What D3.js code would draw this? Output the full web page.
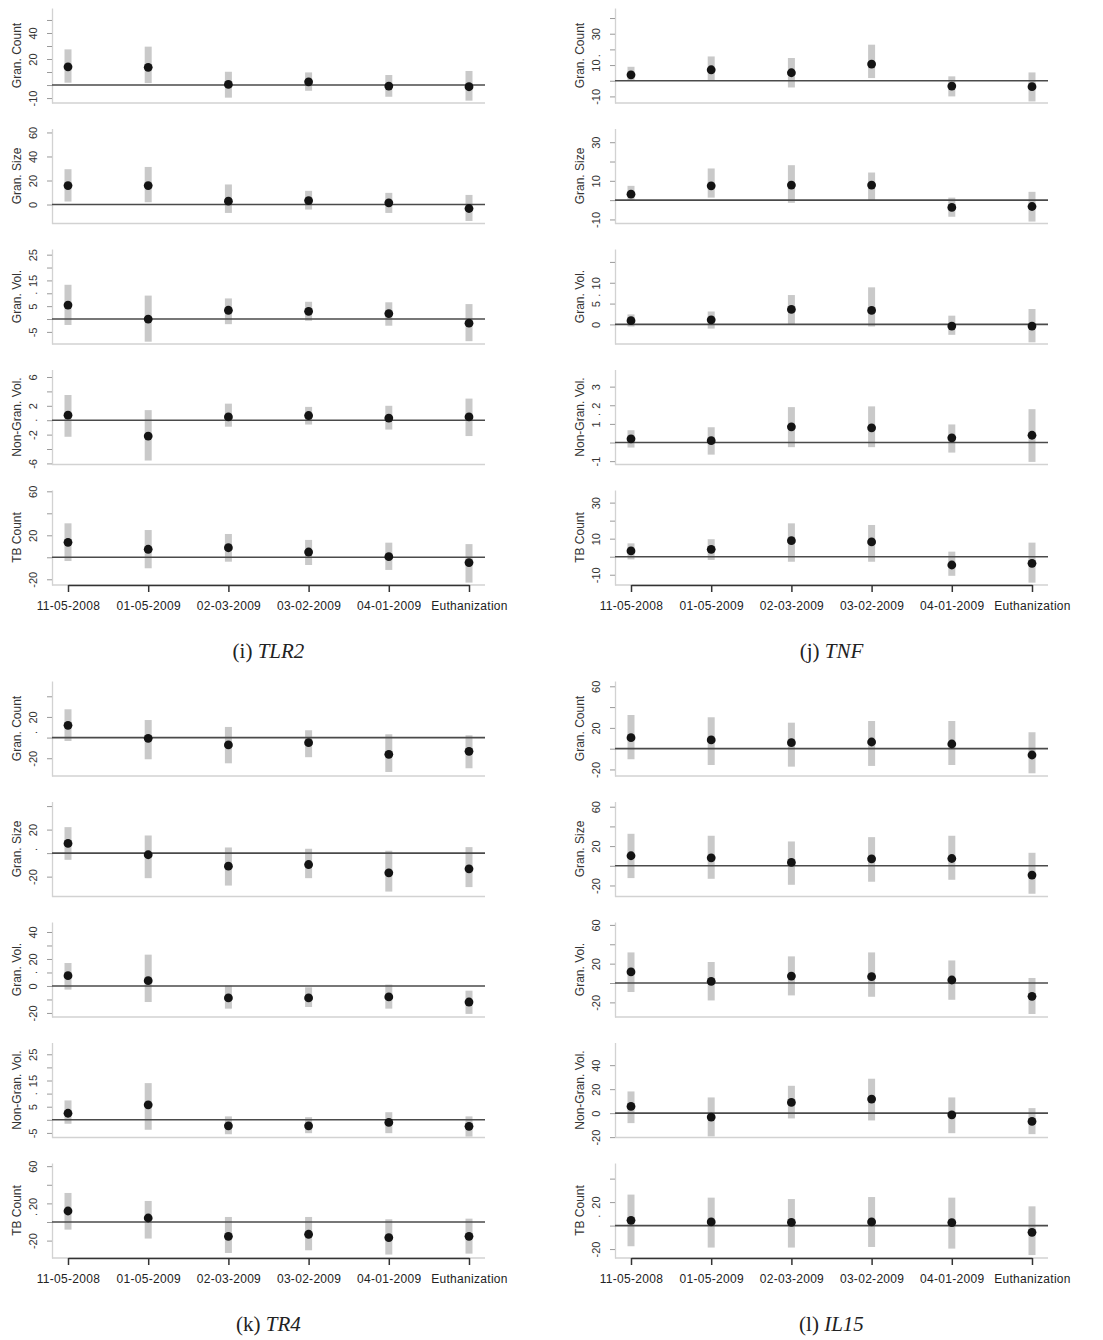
<!DOCTYPE html>
<html>
<head>
<meta charset="utf-8">
<script src="https://cdn.jsdelivr.net/npm/d3@7"></script>
<style>
  body { margin: 0; background: #fff; }
  svg text { font-family: "Liberation Sans", Arial, Helvetica, sans-serif; }
</style>
</head>
<body>
<svg id="fig" width="1103" height="1340"></svg>
<script>
// Visit dates on the shared x axis and the five outcome measures per gene
const visitDates = ["11-05-2008", "01-05-2009", "02-03-2009", "03-02-2009", "04-01-2009", "Euthanization"];
const measureNames = ["Gran. Count", "Gran. Size", "Gran. Vol.", "Non-Gran. Vol.", "TB Count"];

// ---- TLR2 ----
const tlr2Est = [
  [14, 13.6, 0.5, 2.5, -0.8, -1.3],
  [15.8, 15.8, 2.8, 3.3, 1.4, -3.3],
  [5.4, 0, 3.4, 3, 2.1, -1.6],
  [0.7, -2.2, 0.46, 0.65, 0.3, 0.46],
  [13.6, 7.3, 8.7, 4.8, 0.6, -4.8]
];
const tlr2Low = [
  [1.8, 1.5, -9.7, -4.4, -9, -12],
  [2.5, 1.9, -7, -4.2, -7, -13.7],
  [-2.3, -8.8, -2, -0.7, -2.6, -8.6],
  [-2.3, -5.6, -0.9, -0.6, -1.3, -2.2],
  [-3.4, -10, -4, -7, -11.5, -23]
];
const tlr2High = [
  [27.4, 29.5, 10.2, 9.7, 7.7, 10.8],
  [29.4, 31.3, 16.7, 11.4, 9.7, 8],
  [13.3, 9.1, 8, 6.7, 6.5, 5.8],
  [3.5, 1.4, 2.3, 1.85, 2, 3],
  [30.9, 24.8, 21.2, 15.8, 13.3, 12]
];
const tlr2Limits = [[-13.8, 59.2], [-15.8, 63.3], [-9.7, 27.2], [-6.15, 7.04], [-25.2, 61.2]];
const tlr2Ticks = [
  [-10, 0, 10, 20, 30, 40, 50],
  [0, 20, 40, 60],
  [-5, 0, 5, 10, 15, 20, 25],
  [-6, -4, -2, 0, 2, 4, 6],
  [-20, 0, 20, 40, 60]
];
const tlr2TickText = [
  ["-10", "", "", "20", "", "40", ""],
  ["0", "20", "40", "60"],
  ["-5", "", "5", "", "15", "", "25"],
  ["-6", "", "-2", "", "2", "", "6"],
  ["-20", "", "20", "", "60"]
];
const tlr2Dots = [[], [], [10], [0], []];

// ---- TNF ----
const tnfEst = [
  [3.8, 7, 5.1, 10.6, -3.4, -3.8],
  [3.1, 7.4, 7.8, 7.8, -3.8, -3.3],
  [0.9, 1.1, 3.6, 3.36, -0.4, -0.4],
  [0.2, 0.1, 0.84, 0.79, 0.25, 0.39],
  [3.2, 4.1, 8.9, 8.2, -4.6, -3.7]
];
const tnfLow = [
  [0.2, 0.4, -4.3, 1.7, -10, -13.2],
  [-0.4, 1.3, -1.4, 0, -8.6, -11.1],
  [-0.5, -1, 0, -0.5, -2.5, -4.3],
  [-0.27, -0.65, -0.25, -0.25, -0.54, -1.04],
  [-1.5, -1.8, -2.8, -2.8, -10.6, -14.4]
];
const tnfHigh = [
  [8.9, 15.5, 14.5, 23, 2.8, 5.3],
  [7.4, 16.4, 18.1, 14.3, 1.3, 4.3],
  [2.4, 3.1, 7.05, 8.9, 2.1, 3.7],
  [0.66, 0.82, 1.9, 1.94, 0.97, 1.79],
  [7.4, 9.7, 18.5, 17.6, 2.8, 7.8]
];
const tnfLimits = [[-14.2, 46.4], [-12.1, 37.1], [-4.7, 18.1], [-1.18, 3.92], [-15.7, 37]];
const tnfTicks = [
  [-10, 0, 10, 20, 30, 40],
  [-10, 0, 10, 20, 30],
  [0, 5, 10, 15],
  [-1, 0, 1, 2, 3],
  [-10, 0, 10, 20, 30]
];
const tnfTickText = [
  ["-10", "", "10", "", "30", ""],
  ["-10", "", "10", "", "30"],
  ["0", "5", "10", ""],
  ["-1", "", "1", "2", "3"],
  ["-10", "", "10", "", "30"]
];
const tnfDots = [[16], [], [7], [1.5], []];

// ---- TR4 ----
const tr4Est = [
  [11.9, -0.7, -7.1, -4.9, -16.2, -13.3],
  [8.2, -1.4, -11.1, -9.7, -16.8, -13.4],
  [7.6, 3.9, -8.9, -8.9, -8.1, -11.9],
  [2.5, 5.7, -2.3, -2.3, -1, -2.5],
  [11.8, 4.3, -15.4, -13.2, -16.8, -15.4]
];
const tr4Low = [
  [-3.3, -21, -24.9, -19, -33.3, -29.7],
  [-5.7, -21.3, -27.6, -21.3, -32.7, -28.9],
  [-2.7, -11.9, -16.8, -15.6, -16.8, -20.7],
  [-1.5, -3.8, -5.5, -5.1, -5.1, -6.4],
  [-8.2, -17.8, -33.3, -30.4, -35, -34]
];
const tr4High = [
  [27.4, 17, 10.3, 7.1, 3.2, 2.2],
  [22.1, 15, 4.8, 3.7, 2, 5.1],
  [17, 23.2, 0.3, -1, 1, -3.5],
  [7.4, 14, 1.3, 1, 2.9, 1.3],
  [31.2, 22.6, 5.4, 5.4, 2.9, 3.6]
];
const tr4Limits = [[-37.2, 54.8], [-36.9, 43.9], [-23, 47.4], [-6.75, 29.5], [-38.7, 63.4]];
const tr4Ticks = [
  [-20, 0, 20, 40],
  [-20, 0, 20, 40],
  [-20, -10, 0, 10, 20, 30, 40],
  [-5, 0, 5, 10, 15, 20, 25],
  [-20, 0, 20, 40, 60]
];
const tr4TickText = [
  ["-20", "", "20", ""],
  ["-20", "", "20", ""],
  ["-20", "", "0", "", "20", "", "40"],
  ["-5", "", "5", "", "15", "", "25"],
  ["-20", "", "20", "", "60"]
];
const tr4Dots = [[5], [3], [10], [10], [8]];

// ---- IL15 ----
const il15Est = [
  [10.6, 8.4, 5.8, 6.4, 4.5, -6.1],
  [10.2, 8.1, 3.4, 7.1, 7.4, -9.4],
  [11.4, 1.7, 7.2, 6.5, 3.1, -13.8],
  [5.6, -3.3, 8.9, 11.7, -1.4, -6.9],
  [4.5, 3.1, 2.8, 3.1, 2.6, -5.7]
];
const il15Low = [
  [-10.2, -15.7, -17.3, -16.6, -15.7, -23.7],
  [-12.5, -13.2, -19.3, -16.2, -14.2, -28.4],
  [-9.3, -18, -12.8, -14.2, -17.3, -32],
  [-8.3, -19.4, -4.4, -6.1, -16.7, -17.5],
  [-17.6, -18.7, -18.7, -18.2, -19.6, -25.1]
];
const il15High = [
  [32.4, 30.2, 25, 26.6, 26.6, 15.8],
  [32.5, 30.5, 24.7, 29.1, 30.5, 13.2],
  [31.6, 21.7, 27.5, 31.6, 23.3, 5.2],
  [18.1, 13.1, 22.8, 28.7, 13.1, 4.2],
  [26.4, 23.8, 22.6, 24.3, 23.8, 16.4]
];
const il15Limits = [[-26.3, 65.1], [-31.2, 65.3], [-35.1, 63], [-20.3, 58.9], [-27.6, 53.3]];
const il15Ticks = [
  [-20, 0, 20, 40, 60],
  [-20, 0, 20, 40, 60],
  [-20, 0, 20, 40, 60],
  [-20, 0, 20, 40],
  [-20, 0, 20, 40]
];
const il15TickText = [
  ["-20", "", "20", "", "60"],
  ["-20", "", "20", "", "60"],
  ["-20", "", "20", "", "60"],
  ["-20", "0", "20", "40"],
  ["-20", "", "20", ""]
];
const il15Dots = [[], [], [], [], [8]];

const panels = [
  { tag: "(i) ", gene: "TLR2", est: tlr2Est, low: tlr2Low, high: tlr2High, lim: tlr2Limits, ticks: tlr2Ticks, tickText: tlr2TickText, dots: tlr2Dots },
  { tag: "(j) ", gene: "TNF",  est: tnfEst,  low: tnfLow,  high: tnfHigh,  lim: tnfLimits,  ticks: tnfTicks,  tickText: tnfTickText,  dots: tnfDots },
  { tag: "(k) ", gene: "TR4",  est: tr4Est,  low: tr4Low,  high: tr4High,  lim: tr4Limits,  ticks: tr4Ticks,  tickText: tr4TickText,  dots: tr4Dots },
  { tag: "(l) ", gene: "IL15", est: il15Est, low: il15Low, high: il15High, lim: il15Limits, ticks: il15Ticks, tickText: il15TickText, dots: il15Dots }
];

// ---- layout ----
const colLeft = [52, 615];
const rowTop = [0, 673];
const plotW = 433, inset = 16;
const subH = 95, subStep = 120.5, firstBottom = 103;

const svg = d3.select("#fig");

panels.forEach((p, pi) => {
  const left = colLeft[pi % 2];
  const top = rowTop[Math.floor(pi / 2)];
  const g = svg.append("g");

  const x = d3.scalePoint().domain(visitDates).range([left + inset, left + plotW - inset]).padding(0);

  measureNames.forEach((name, si) => {
    const bottom = top + firstBottom + si * subStep;
    const y = d3.scaleLinear().domain(p.lim[si]).range([bottom, bottom - subH]);
    const sg = g.append("g");

    // light L-shaped frame
    sg.append("line").attr("x1", left).attr("x2", left + plotW)
      .attr("y1", bottom).attr("y2", bottom)
      .attr("stroke", "#d2d2d2").attr("stroke-width", 1.3);

    // y axis
    const yAxis = d3.axisLeft(y)
      .tickValues(p.ticks[si])
      .tickFormat((d, i) => p.tickText[si][i])
      .tickSize(5)
      .tickSizeOuter(0);
    const ya = sg.append("g").attr("transform", `translate(${left},0)`).call(yAxis);
    ya.select(".domain").attr("stroke", "#d2d2d2").attr("stroke-width", 1.3);
    ya.selectAll(".tick line").attr("stroke", "#9a9a9a");
    ya.selectAll(".tick text")
      .attr("transform", "rotate(-90)")
      .attr("x", 0).attr("y", -15).attr("dy", null)
      .attr("text-anchor", "middle")
      .attr("fill", "#333")
      .style("font-size", "11px");

    // stray point marks beside the tick labels
    sg.selectAll("text.dotmark").data(p.dots[si]).join("text")
      .attr("class", "dotmark")
      .attr("transform", d => `translate(${left - 15},${y(d)}) rotate(-90)`)
      .attr("text-anchor", "middle")
      .attr("fill", "#333")
      .style("font-size", "11px")
      .text(".");

    // axis title
    sg.append("text")
      .attr("transform", `translate(${left - 31},${bottom - subH / 2}) rotate(-90)`)
      .attr("text-anchor", "middle")
      .attr("fill", "#333")
      .style("font-size", "12px")
      .text(name);

    const rows = visitDates.map((d, i) => ({ date: d, est: p.est[si][i], lo: p.low[si][i], hi: p.high[si][i] }));

    // interval bars
    sg.selectAll("rect.ci").data(rows).join("rect")
      .attr("class", "ci")
      .attr("x", d => x(d.date) - 3.5)
      .attr("width", 7)
      .attr("y", d => y(d.hi))
      .attr("height", d => y(d.lo) - y(d.hi))
      .attr("fill", "#c9c9c9");

    // reference line at zero
    sg.append("line").attr("x1", left).attr("x2", left + plotW)
      .attr("y1", y(0)).attr("y2", y(0))
      .attr("stroke", "#4a4a4a").attr("stroke-width", 1.6);

    // point estimates
    sg.selectAll("circle.est").data(rows).join("circle")
      .attr("class", "est")
      .attr("cx", d => x(d.date))
      .attr("cy", d => y(d.est))
      .attr("r", 4.4)
      .attr("fill", "#141414");

    // x axis below the last measure
    if (si === measureNames.length - 1) {
      const xa = sg.append("g").attr("transform", `translate(0,${bottom})`)
        .call(d3.axisBottom(x).tickSize(7).tickSizeOuter(0));
      xa.select(".domain").attr("stroke", "#333").attr("stroke-width", 1.5);
      xa.selectAll(".tick line").attr("stroke", "#333").attr("stroke-width", 1.5);
      xa.selectAll(".tick text")
        .attr("y", 21).attr("dy", "0.32em")
        .attr("fill", "#222")
        .style("font-size", "12px")
        .style("letter-spacing", "0.3px");
    }
  });

  // panel caption
  const cap = g.append("text")
    .attr("x", left + plotW / 2)
    .attr("y", top + 658)
    .attr("text-anchor", "middle")
    .attr("fill", "#222")
    .style("font-family", "'Liberation Serif', 'Times New Roman', serif")
    .style("font-size", "21px");
  cap.append("tspan").text(p.tag);
  cap.append("tspan").style("font-style", "italic").text(p.gene);
});
</script>
</body>
</html>
